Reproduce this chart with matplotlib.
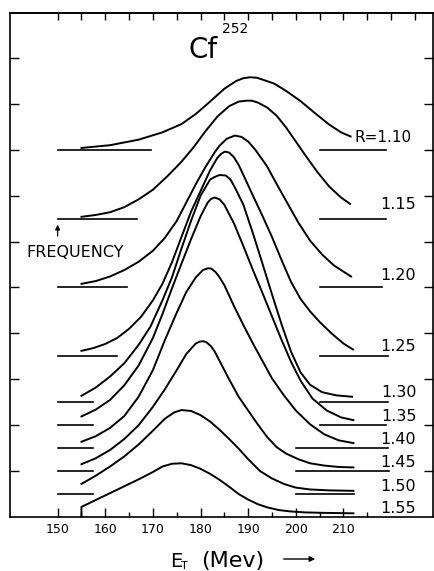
import matplotlib
matplotlib.use('Agg')
import matplotlib.pyplot as plt
from matplotlib.patches import FancyArrowPatch

# R 값과 각 곡선의 기준선(오프셋)
r_labels = ['R=1.10', '1.15', '1.20', '1.25', '1.30', '1.35', '1.40', '1.45', '1.50', '1.55']
base = [8.0, 6.5, 5.0, 3.5, 2.5, 2.0, 1.5, 1.0, 0.5, 0.0]
left_end = [169.5, 166.7, 164.6, 162.4, 157.4, 157.4, 157.4, 157.4, 157.4, None]
right_start = [205, 205, 205, 205, 205, 205, 200, 200, 200, None]
right_end = [219, 219, 218, 219.4, 219.4, 219, 219.4, 219.6, 212.2, None]

# 곡선 데이터: E_T (Mev), frequency
e_110 = [155, 161, 167, 172, 176, 179, 182, 185, 187.5, 189, 190.4, 191.8, 193, 195.5, 198, 201, 204, 207, 209.5, 211.5]
f_110 = [8.04, 8.10, 8.22, 8.38, 8.56, 8.78, 9.05, 9.33, 9.50, 9.56, 9.58, 9.57, 9.53, 9.44, 9.28, 9.06, 8.80, 8.55, 8.38, 8.29]

e_115 = [155, 158, 161, 164, 167, 170, 173, 176, 178.5, 181, 183.5, 186, 188, 189.7, 190.8, 192, 194, 196, 198, 200, 202, 204.5, 207, 209.5, 211.4]
f_115 = [6.54, 6.58, 6.64, 6.75, 6.92, 7.13, 7.42, 7.74, 8.05, 8.40, 8.72, 8.95, 9.05, 9.07, 9.07, 9.03, 8.92, 8.74, 8.48, 8.18, 7.88, 7.52, 7.20, 6.96, 6.82]

e_120 = [155, 158, 161, 164, 167, 170, 172.5, 175, 177, 179, 181, 183, 184, 185.5, 187.2, 188.6, 190, 191.5, 193.9, 196, 198, 200.5, 203, 205.5, 208, 211.6]
f_120 = [5.08, 5.14, 5.24, 5.38, 5.56, 5.80, 6.08, 6.45, 6.85, 7.25, 7.62, 7.95, 8.09, 8.24, 8.31, 8.28, 8.18, 8.00, 7.65, 7.25, 6.88, 6.42, 6.02, 5.72, 5.48, 5.24]

e_125 = [155, 157.5, 160, 162.5, 165, 167.5, 170, 172, 174, 176, 178, 180, 182, 183.5, 184.3, 185.1, 186, 187, 188, 189, 191, 193, 195, 197, 199, 201, 203, 205, 207.5, 210, 212]
f_125 = [3.62, 3.68, 3.77, 3.90, 4.10, 4.36, 4.72, 5.08, 5.55, 6.10, 6.65, 7.10, 7.55, 7.82, 7.91, 7.96, 7.94, 7.84, 7.67, 7.45, 7.00, 6.56, 6.10, 5.60, 5.12, 4.75, 4.48, 4.25, 4.00, 3.78, 3.65]

e_130 = [155, 158, 161, 164, 167, 169.5, 172, 174, 176, 178, 180, 182, 183, 184, 185.3, 186.3, 187.5, 189, 191, 193, 195, 197, 199, 201, 203, 205.5, 208.5, 211.8]
f_130 = [2.64, 2.82, 3.06, 3.35, 3.75, 4.15, 4.72, 5.22, 5.85, 6.45, 7.00, 7.35, 7.41, 7.45, 7.44, 7.35, 7.12, 6.80, 6.18, 5.52, 4.85, 4.20, 3.60, 3.15, 2.88, 2.72, 2.65, 2.62]

e_135 = [155, 158, 161, 164, 167, 170, 172, 174, 176, 178, 180, 181.5, 182.2, 183, 184, 185, 187, 189, 191, 193, 195, 197, 199, 201, 203.5, 206.5, 209.5, 212.1]
f_135 = [2.19, 2.34, 2.55, 2.87, 3.30, 3.90, 4.42, 4.98, 5.52, 6.05, 6.55, 6.85, 6.93, 6.96, 6.92, 6.80, 6.40, 5.90, 5.38, 4.88, 4.37, 3.86, 3.38, 2.97, 2.58, 2.32, 2.17, 2.11]

e_140 = [155, 158, 161, 164, 167, 170, 172.5, 175, 177, 179, 180.5, 181.6, 182.3, 183.2, 184, 185, 187, 189, 191, 193, 195, 197.5, 200, 203, 206, 209, 212.1]
f_140 = [1.64, 1.76, 1.94, 2.20, 2.62, 3.20, 3.85, 4.45, 4.90, 5.22, 5.38, 5.42, 5.41, 5.33, 5.22, 5.05, 4.60, 4.18, 3.78, 3.40, 3.02, 2.65, 2.32, 2.02, 1.80, 1.67, 1.61]

e_145 = [155, 158, 161, 164, 167, 170, 172.5, 175, 177, 179, 179.8, 180.5, 181.2, 182.2, 183, 184, 186, 188, 190, 192, 194, 196, 198, 200.5, 203, 206, 209, 212.1]
f_145 = [1.15, 1.28, 1.46, 1.70, 2.00, 2.40, 2.78, 3.20, 3.55, 3.78, 3.82, 3.83, 3.81, 3.72, 3.60, 3.40, 3.00, 2.62, 2.32, 2.02, 1.74, 1.52, 1.38, 1.26, 1.17, 1.12, 1.09, 1.08]

e_150 = [155, 158, 161, 164, 167, 170, 172.5, 174.5, 176, 178, 180, 182, 184, 186, 188, 190, 192.5, 195, 197.5, 200, 203, 207, 212.1]
f_150 = [0.72, 0.90, 1.10, 1.32, 1.58, 1.88, 2.14, 2.28, 2.33, 2.31, 2.22, 2.08, 1.90, 1.70, 1.49, 1.26, 1.00, 0.84, 0.72, 0.64, 0.60, 0.58, 0.57]

e_155 = [155, 155, 158, 161, 164, 167, 170, 172, 174, 176, 178, 180, 182, 184, 186, 188, 190, 192, 194, 196.5, 199, 202, 206, 212.1]
f_155 = [0.0, 0.22, 0.37, 0.52, 0.67, 0.82, 0.98, 1.10, 1.16, 1.17, 1.13, 1.05, 0.94, 0.81, 0.66, 0.50, 0.38, 0.28, 0.21, 0.15, 0.12, 0.10, 0.09, 0.08]

curves = [(e_110, f_110), (e_115, f_115), (e_120, f_120), (e_125, f_125), (e_130, f_130),
          (e_135, f_135), (e_140, f_140), (e_145, f_145), (e_150, f_150), (e_155, f_155)]

x_ticks = [150, 160, 170, 180, 190, 200, 210]

# 라벨 위치 (기준선 위)
lab_y = [8.165, 6.72, 5.16, 3.62, 2.61, 2.09, 1.60, 1.09, 0.56, 0.08]

fig = plt.figure(figsize=(4.35, 5.71), dpi=100)
ax = fig.add_axes([10 / 435, 54 / 571, 423 / 435, 504 / 571])

for i, (e, f) in enumerate(curves):
    ax.plot(e, f, color='k', lw=1.4, solid_joinstyle='round')
    if left_end[i] is not None:
        ax.plot([150, left_end[i]], [base[i], base[i]], color='k', lw=1.2)
        ax.plot([right_start[i], right_end[i]], [base[i], base[i]], color='k', lw=1.2)
    if i == 0:
        ax.text(212.4, lab_y[i], r_labels[i], ha='left', va='baseline', fontsize=11)
    else:
        ax.text(225.3, lab_y[i], r_labels[i], ha='right', va='baseline', fontsize=11.5)

ax.set_xlim(140, 228.8)
ax.set_ylim(0, 10.98)

ax.set_xticks(x_ticks)
ax.set_xticklabels([str(t) for t in x_ticks], fontsize=9)
ax.set_xticks(list(range(155, 216, 10)), minor=True)
ax.tick_params(axis='x', which='major', direction='in', length=6.5, width=1, pad=4.3)
ax.tick_params(axis='x', which='minor', direction='in', length=3.8, width=1)
ax.set_yticks(list(range(1, 11)))
ax.set_yticklabels([])
ax.tick_params(axis='y', direction='in', length=6.5, width=1, left=True, right=True)

top = ax.secondary_xaxis('top')
top.set_xticks(list(range(150, 226, 5)))
top.set_xticklabels([])
top.tick_params(axis='x', direction='in', length=5, width=1)
top.spines['top'].set_linewidth(1.2)
for s in ax.spines.values():
    s.set_linewidth(1.2)

# 제목
ax.text(180.5, 10.17, 'Cf', ha='center', va='center', fontsize=20)
ax.text(187.3, 10.63, '252', ha='center', va='center', fontsize=10)

# FREQUENCY 화살표
ax.text(153.6, 5.77, 'FREQUENCY', ha='center', va='center', fontsize=11.5)
ax.annotate('', xy=(150, 6.43), xytext=(150, 6.06),
            arrowprops=dict(arrowstyle='-|>', color='k', lw=0.9, mutation_scale=7))

# x축 라벨
fig.text(170 / 435, 1 - 567 / 571, 'E', fontsize=14, ha='left', va='baseline')
fig.text(181 / 435, 1 - 561 / 571, 'T', fontsize=8, ha='left', va='top')
fig.text(233 / 435, 1 - 567 / 571, '(Mev)', fontsize=16, ha='center', va='baseline')
fig.add_artist(FancyArrowPatch((281 / 435, 1 - 559 / 571), (318 / 435, 1 - 559 / 571),
                               transform=fig.transFigure, arrowstyle='-|>',
                               mutation_scale=8, lw=1, color='k'))

fig.savefig('out.png', dpi=100)
